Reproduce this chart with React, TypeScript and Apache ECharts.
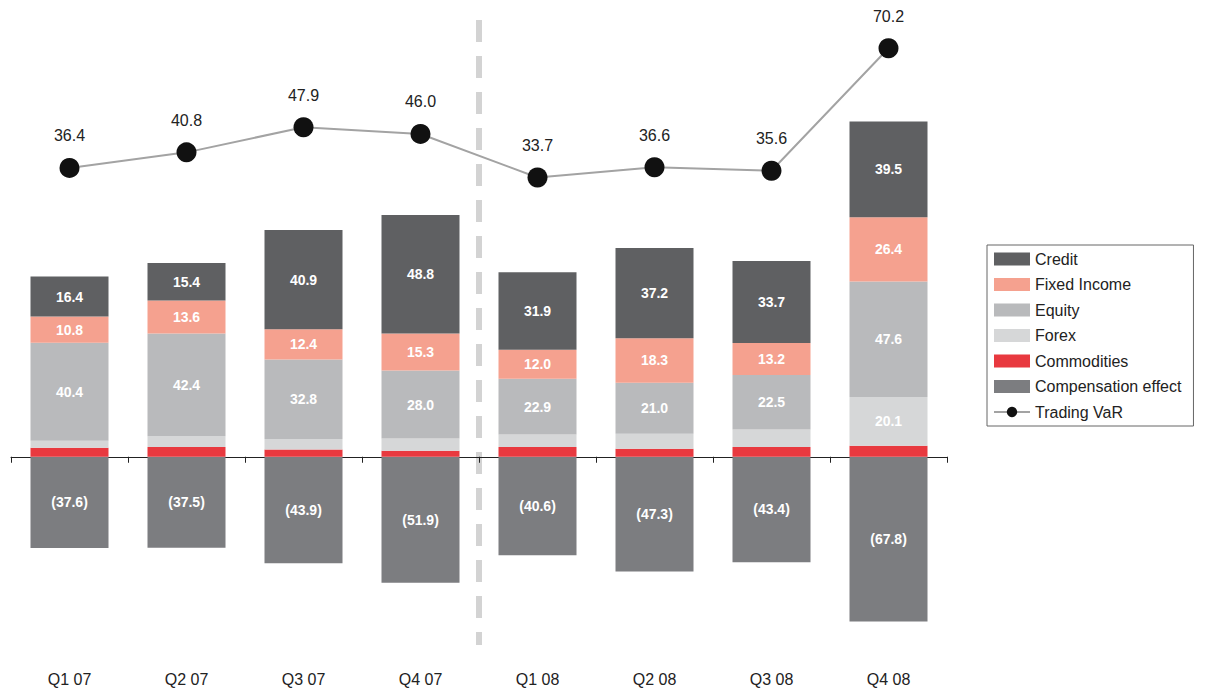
import React, { useEffect, useRef } from 'react';
import * as echarts from 'echarts';

const quarters = ['Q1 07', 'Q2 07', 'Q3 07', 'Q4 07', 'Q1 08', 'Q2 08', 'Q3 08', 'Q4 08'];
const compensation = [-37.6, -37.5, -43.9, -51.9, -40.6, -47.3, -43.4, -67.8];
const commodities = [3.7, 4.0, 3.0, 2.5, 4.0, 3.3, 4.0, 4.5];
const forex = [2.9, 4.4, 4.3, 5.0, 5.2, 6.2, 7.2, 20.1];
const equity = [40.4, 42.4, 32.8, 28.0, 22.9, 21.0, 22.5, 47.6];
const fixedIncome = [10.8, 13.6, 12.4, 15.3, 12.0, 18.3, 13.2, 26.4];
const credit = [16.4, 15.4, 40.9, 48.8, 31.9, 37.2, 33.7, 39.5];
const tradingVaR = [36.4, 40.8, 47.9, 46.0, 33.7, 36.6, 35.6, 70.2];

const FONT = '"Liberation Sans", Arial, sans-serif';

const App: React.FC = () => {
  const ref = useRef<HTMLDivElement>(null);

  useEffect(() => {
    if (!ref.current) return;
    const chart = echarts.init(ref.current, undefined, { renderer: 'svg' });

    const barLabel = (minShow: number) => ({
      show: true,
      color: '#fff',
      fontWeight: 'bold' as const,
      fontSize: 14,
      fontFamily: FONT,
      formatter: (p: any) =>
        Math.abs(p.value) < minShow ? '' : p.value < 0 ? `(${Math.abs(p.value).toFixed(1)})` : p.value.toFixed(1),
    });

    const stackBar = (name: string, data: number[], color: string, minShow: number) => ({
      name,
      type: 'bar',
      stack: 'pnl',
      data,
      barWidth: 78,
      itemStyle: { color },
      label: barLabel(minShow),
    });

    chart.setOption({
      animation: false,
      textStyle: { fontFamily: FONT },
      grid: { left: 11, width: 936, top: 10, height: 641 },
      legend: {
        orient: 'vertical',
        left: 987,
        top: 245,
        padding: [6, 12, 6, 6],
        borderColor: '#666',
        borderWidth: 1,
        itemWidth: 36,
        itemHeight: 13,
        itemGap: 9.5,
        textStyle: { fontSize: 16, color: '#222', fontFamily: FONT },
        data: [
          { name: 'Credit', icon: 'rect' },
          { name: 'Fixed Income', icon: 'rect' },
          { name: 'Equity', icon: 'rect' },
          { name: 'Forex', icon: 'rect' },
          { name: 'Commodities', icon: 'rect' },
          { name: 'Compensation effect', icon: 'rect' },
          { name: 'Trading VaR' },
        ],
      },
      xAxis: [
        {
          type: 'category',
          data: quarters,
          axisLine: { show: false, onZero: false },
          axisTick: { show: false },
          axisLabel: { fontSize: 16, color: '#222', margin: 20 },
        },
        {
          type: 'category',
          data: quarters,
          position: 'bottom',
          axisLine: { show: true, onZero: true, onZeroAxisIndex: 0, lineStyle: { color: '#222', width: 1 } },
          axisTick: { show: true, length: 6, lineStyle: { color: '#222' } },
          axisLabel: { show: false },
        },
      ],
      yAxis: [
        { type: 'value', min: -80, max: 184, show: false, splitLine: { show: false } },
        { type: 'value', min: -100, max: 81, show: false, splitLine: { show: false } },
      ],
      series: [
        stackBar('Compensation effect', compensation, '#7c7d80', 1),
        stackBar('Commodities', commodities, '#e8393f', 100),
        stackBar('Forex', forex, '#d6d7d8', 10),
        stackBar('Equity', equity, '#b9babc', 1),
        stackBar('Fixed Income', fixedIncome, '#f5a18f', 1),
        stackBar('Credit', credit, '#5f6062', 1),
        {
          name: 'Trading VaR',
          type: 'line',
          yAxisIndex: 1,
          data: tradingVaR,
          symbol: 'circle',
          symbolSize: 20,
          itemStyle: { color: '#111' },
          lineStyle: { color: '#a3a3a3', width: 2 },
          label: {
            show: true,
            position: 'top',
            distance: 14,
            fontSize: 16,
            color: '#222',
            formatter: (p: any) => p.value.toFixed(1),
          },
          z: 5,
        },
      ],
    });

    const x1 = chart.convertToPixel({ xAxisIndex: 0 }, 'Q4 07') as number;
    const x2 = chart.convertToPixel({ xAxisIndex: 0 }, 'Q1 08') as number;
    const xm = (x1 + x2) / 2;
    chart.setOption({
      graphic: [
        {
          type: 'line',
          shape: { x1: xm, y1: 20, x2: xm, y2: 645 },
          style: { stroke: '#d3d3d3', lineWidth: 6, lineDash: [22, 14] },
          z: 0,
        },
      ],
    });

    return () => chart.dispose();
  }, []);

  return <div ref={ref} style={{ position: 'absolute', left: 0, top: 0, width: 1215, height: 688 }} />;
};

export default App;
